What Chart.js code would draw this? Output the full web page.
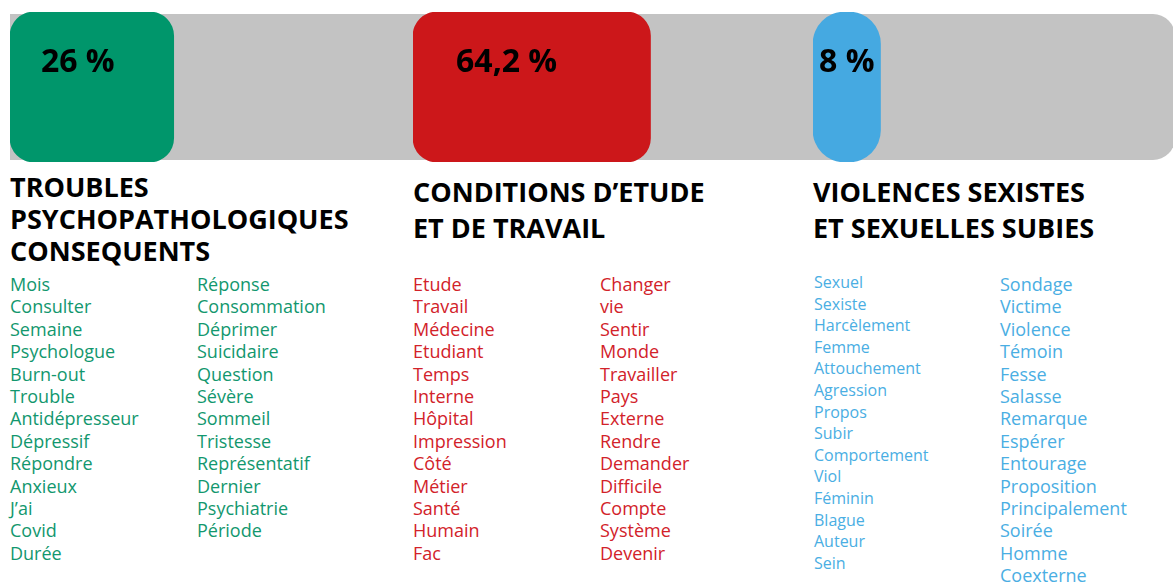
<!doctype html>
<html lang="fr">
  <head>
    <meta charset="utf-8">
    <title>Motifs et mots-clés</title>
    <style>
      html, body { margin: 0; padding: 0; background: #fff; overflow: hidden; }
      body { width: 1173px; height: 583px; position: relative; font-family: "Open Sans", sans-serif; }
      .track { position: absolute; left: 10px; top: 14px; width: 1165px; height: 146px; background: #c3c3c3; border-radius: 0 22px 22px 0; }
      canvas.bar { position: absolute; top: 12px; }
      .title { position: absolute; margin: 0; font-weight: 700; font-size: 27px; color: #000; white-space: nowrap; }
      .words { position: absolute; margin: 0; padding: 0; list-style: none; font-size: 18px; line-height: 22.4px; white-space: nowrap; }
    </style>
  </head>
  <body>
    <div class="track"></div>
    <canvas id="bar0" class="bar" width="400" height="150" style="left:10px"></canvas>
    <canvas id="bar1" class="bar" width="400" height="150" style="left:413px"></canvas>
    <canvas id="bar2" class="bar" width="400" height="150" style="left:813px"></canvas>
    <div id="texts"></div>

    <script src="https://cdn.jsdelivr.net/npm/chart.js@4.4.1/dist/chart.umd.min.js"></script>
    <script>
      const themes = [
        ['TROUBLES', 'PSYCHOPATHOLOGIQUES', 'CONSEQUENTS'],
        ['CONDITIONS D\u2019ETUDE', 'ET DE TRAVAIL'],
        ['VIOLENCES SEXISTES', 'ET SEXUELLES SUBIES']
      ];
      const shares = [26, 64.2, 8];
      const shareLabels = ['26 %', '64,2 %', '8 %'];

      const wordsTroubles = [
        ['Mois', 'Consulter', 'Semaine', 'Psychologue', 'Burn-out', 'Trouble', 'Antidépresseur',
         'Dépressif', 'Répondre', 'Anxieux', 'J\u2019ai', 'Covid', 'Durée'],
        ['Réponse', 'Consommation', 'Déprimer', 'Suicidaire', 'Question', 'Sévère', 'Sommeil',
         'Tristesse', 'Représentatif', 'Dernier', 'Psychiatrie', 'Période']
      ];
      const wordsConditions = [
        ['Etude', 'Travail', 'Médecine', 'Etudiant', 'Temps', 'Interne', 'Hôpital',
         'Impression', 'Côté', 'Métier', 'Santé', 'Humain', 'Fac'],
        ['Changer', 'vie', 'Sentir', 'Monde', 'Travailler', 'Pays', 'Externe',
         'Rendre', 'Demander', 'Difficile', 'Compte', 'Système', 'Devenir']
      ];
      const wordsViolences = [
        ['Sexuel', 'Sexiste', 'Harcèlement', 'Femme', 'Attouchement', 'Agression', 'Propos',
         'Subir', 'Comportement', 'Viol', 'Féminin', 'Blague', 'Auteur', 'Sein'],
        ['Sondage', 'Victime', 'Violence', 'Témoin', 'Fesse', 'Salasse', 'Remarque',
         'Espérer', 'Entourage', 'Proposition', 'Principalement', 'Soirée', 'Homme', 'Coexterne']
      ];
      const wordLists = [wordsTroubles, wordsConditions, wordsViolences];

      const colors = ['#00966b', '#cc171a', '#45a9e1'];
      const textColors = ['#12976e', '#d2222a', '#4aaee3'];
      const radii = [24, 24, 32];
      const colLeft = [10, 413, 813];

      // text blocks
      const texts = document.getElementById('texts');
      themes.forEach((lines, i) => {
        const h = document.createElement('div');
        h.className = 'title';
        h.style.left = colLeft[i] + 'px';
        if (lines.length === 3) {
          h.style.top = '171px';
          h.style.lineHeight = '32px';
        } else {
          h.style.top = '173.5px';
          h.style.lineHeight = '36px';
        }
        h.innerHTML = lines.join('<br>');
        texts.appendChild(h);

        wordLists[i].forEach((list, j) => {
          const ul = document.createElement('ul');
          ul.className = 'words';
          ul.style.color = textColors[i];
          ul.style.left = (colLeft[i] + (j === 0 ? 0 : 187)) + 'px';
          ul.style.top = '273px';
          if (i === 2 && j === 0) {
            ul.style.fontSize = '16px';
            ul.style.lineHeight = '21.6px';
            ul.style.left = (colLeft[i] + 1) + 'px';
            ul.style.top = '272px';
          }
          list.forEach(w => {
            const li = document.createElement('li');
            li.textContent = w;
            ul.appendChild(li);
          });
          texts.appendChild(ul);
        });
      });

      const shareLabel = {
        id: 'shareLabel',
        afterDatasetsDraw(chart) {
          const bar = chart.getDatasetMeta(0).data[0];
          const ctx = chart.ctx;
          const w = bar.x - bar.base;
          const cx = bar.base + w / 2 - Math.max(0, w - 70) * 0.15;
          ctx.save();
          ctx.fillStyle = '#000';
          ctx.font = '700 32px "Open Sans", sans-serif';
          ctx.textAlign = 'center';
          ctx.textBaseline = 'alphabetic';
          ctx.fillText(chart.data.datasets[0].label, cx, 60);
          ctx.restore();
        }
      };

      shares.forEach((v, i) => {
        const ctx = document.getElementById('bar' + i).getContext('2d');
        new Chart(ctx, {
          type: 'bar',
          data: {
            labels: [themes[i].join(' ')],
            datasets: [{
              label: shareLabels[i],
              data: [v],
              backgroundColor: colors[i],
              borderRadius: radii[i],
              borderSkipped: false,
              barPercentage: 1,
              categoryPercentage: 1
            }]
          },
          options: {
            indexAxis: 'y',
            responsive: false,
            animation: false,
            layout: { padding: 0 },
            plugins: { legend: { display: false }, tooltip: { enabled: false } },
            scales: {
              x: { type: 'logarithmic', min: 3.5, max: 470, display: false },
              y: { display: false }
            }
          },
          plugins: [shareLabel]
        });
      });
    </script>
  </body>
</html>
